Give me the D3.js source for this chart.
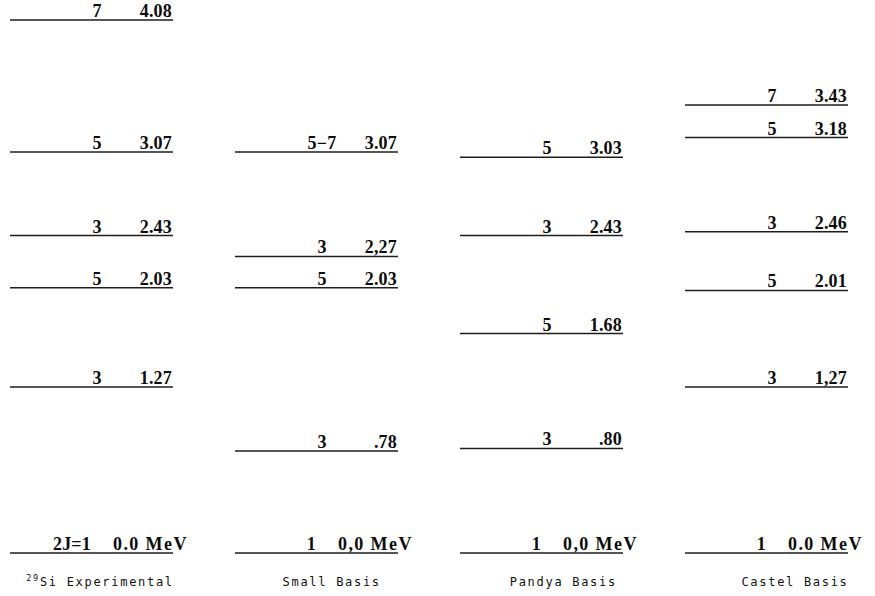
<!DOCTYPE html>
<html>
<head>
<meta charset="utf-8">
<script src="https://cdn.jsdelivr.net/npm/d3@7"></script>
<style>
  html, body { margin: 0; padding: 0; background: #fff; }
  svg { display: block; }
  .spin, .energy { font-family: "Liberation Serif", "Times New Roman", serif; font-weight: bold; font-size: 18px; letter-spacing: 0.2px; fill: #0d0d0d; }
  .ground { letter-spacing: 1.4px; }
  .caption { font-family: "DejaVu Sans Mono", "Liberation Mono", monospace; font-size: 12px; letter-spacing: 1.7px; fill: #111; }
  .level { stroke: #1e1e1e; stroke-width: 1.5; }
</style>
</head>
<body>
<svg id="chart" width="875" height="596"></svg>
<script>
// Column captions (experiment and the three shell-model bases)
const columns = ["Experimental", "Small Basis", "Pandya Basis", "Castel Basis"];

// Level energies (MeV), spin labels (2J) and printed energy labels per column
const expEnergies    = [0, 1.27, 2.03, 2.43, 3.07, 4.08];
const expSpins       = ["2J=1", "3", "5", "3", "5", "7"];
const expLabels      = ["0.0 MeV", "1.27", "2.03", "2.43", "3.07", "4.08"];

const smallEnergies  = [0, 0.78, 2.03, 2.27, 3.07];
const smallSpins     = ["1", "3", "5", "3", "5\u22127"];
const smallLabels    = ["0,0 MeV", ".78", "2.03", "2,27", "3.07"];

const pandyaEnergies = [0, 0.80, 1.68, 2.43, 3.03];
const pandyaSpins    = ["1", "3", "5", "3", "5"];
const pandyaLabels   = ["0,0 MeV", ".80", "1.68", "2.43", "3.03"];

const castelEnergies = [0, 1.27, 2.01, 2.46, 3.18, 3.43];
const castelSpins    = ["1", "3", "5", "3", "5", "7"];
const castelLabels   = ["0.0 MeV", "1,27", "2.01", "2.46", "3.18", "3.43"];

const energyMax = 4.08;

const sets = [
  { name: columns[0], energies: expEnergies,    spins: expSpins,    labels: expLabels },
  { name: columns[1], energies: smallEnergies,  spins: smallSpins,  labels: smallLabels },
  { name: columns[2], energies: pandyaEnergies, spins: pandyaSpins, labels: pandyaLabels },
  { name: columns[3], energies: castelEnergies, spins: castelSpins, labels: castelLabels }
];

const svg = d3.select("#chart");
const levelWidth = 163;

// Energy scale (no drawn axis), column and caption positions
const y = d3.scaleLinear().domain([0, energyMax]).range([553, 20]);
const x = d3.scalePoint().domain(columns).range([10, 685]);
const xCaption = d3.scalePoint().domain(columns).range([100, 795]);

const col = svg.selectAll("g.column")
  .data(sets)
  .join("g")
  .attr("class", "column")
  .attr("transform", d => `translate(${x(d.name)},0)`);

const level = col.selectAll("g.level-group")
  .data(d => d.energies.map((e, i) => ({ e, spin: d.spins[i], label: d.labels[i] })))
  .join("g")
  .attr("class", "level-group");

level.append("line")
  .attr("class", "level")
  .attr("x1", 0)
  .attr("x2", levelWidth)
  .attr("y1", d => y(d.e))
  .attr("y2", d => y(d.e));

// Spin (2J) labels
level.append("text")
  .attr("class", "spin")
  .attr("text-anchor", d => d.e === 0 ? "end" : "middle")
  .attr("x", d => d.e === 0 ? 81 : 87)
  .attr("y", d => y(d.e) - 3)
  .text(d => d.spin);

// Energy labels; the ground state carries the unit and runs past the line
level.append("text")
  .attr("class", d => d.e === 0 ? "energy ground" : "energy")
  .attr("text-anchor", d => d.e === 0 ? "start" : "end")
  .attr("x", d => d.e === 0 ? 103 : levelWidth - 1)
  .attr("y", d => y(d.e) - 3)
  .text(d => d.label);

// Column captions
const cap = svg.selectAll("text.caption")
  .data(sets)
  .join("text")
  .attr("class", "caption")
  .attr("text-anchor", "middle")
  .attr("x", d => xCaption(d.name))
  .attr("y", 586);

cap.filter((d, i) => i === 0).append("tspan")
  .attr("font-size", "8.5px")
  .attr("dy", -5)
  .text("29");
cap.filter((d, i) => i === 0).append("tspan")
  .attr("dy", 5)
  .text("Si ");
cap.append("tspan").text(d => d.name);
</script>
</body>
</html>
